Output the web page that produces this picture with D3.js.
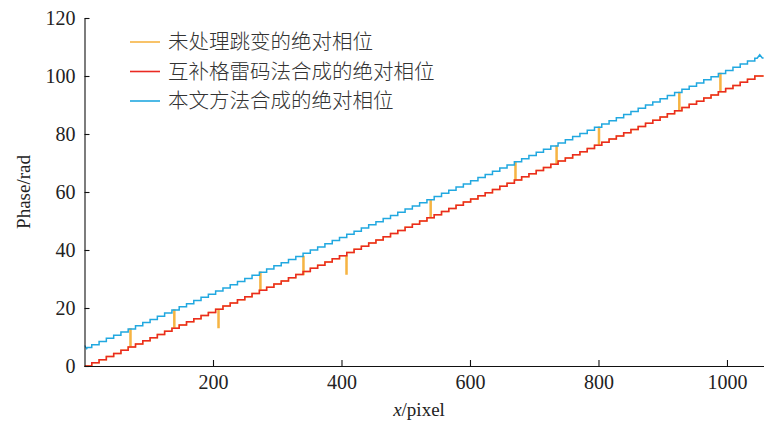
<!DOCTYPE html>
<html><head><meta charset="utf-8">
<script src="https://cdn.jsdelivr.net/npm/d3@7/dist/d3.min.js"></script>
<style>
html,body{margin:0;padding:0;background:#fff;}
svg{display:block;}
</style></head>
<body><svg id="c" width="764" height="424"></svg>
<script>
// ---- data ----
const xTicks = [200, 400, 600, 800, 1000];
const yTicks = [0, 20, 40, 60, 80, 100, 120];
// x positions where each staircase level begins
const stepX = [0, 11.3, 22.7, 34.0, 45.4, 56.7, 68.0, 79.4, 90.7, 102.1, 113.4, 124.7, 136.1, 147.4, 158.8, 170.1, 181.4, 192.8, 204.1, 215.5, 226.8, 238.1, 249.5, 260.8, 272.2, 283.5, 294.8, 306.2, 317.5, 328.9, 340.2, 351.5, 362.9, 374.2, 385.6, 396.9, 408.2, 419.6, 430.9, 442.3, 453.6, 464.9, 476.3, 487.6, 499.0, 510.3, 521.6, 533.0, 544.3, 555.7, 567.0, 578.3, 589.7, 601.0, 612.4, 623.7, 635.0, 646.4, 657.7, 669.1, 680.4, 691.7, 703.1, 714.4, 725.8, 737.1, 748.4, 759.8, 771.1, 782.5, 793.8, 805.1, 816.5, 827.8, 839.2, 850.5, 861.8, 873.2, 884.5, 895.9, 907.2, 918.5, 929.9, 941.2, 952.6, 963.9, 975.2, 986.6, 997.9, 1009.3, 1020.6, 1031.9, 1043.3];
const xEnd = 1057;
// 互补格雷码法合成的绝对相位
const redLevels = [0, 1.09, 2.17, 3.26, 4.35, 5.43, 6.52, 7.61, 8.70, 9.78, 10.87, 11.96, 13.04, 14.13, 15.22, 16.30, 17.39, 18.48, 19.57, 20.65, 21.74, 22.83, 23.91, 25.00, 26.09, 27.17, 28.26, 29.35, 30.43, 31.52, 32.61, 33.70, 34.78, 35.87, 36.96, 38.04, 39.13, 40.22, 41.30, 42.39, 43.48, 44.57, 45.65, 46.74, 47.83, 48.91, 50.00, 51.09, 52.17, 53.26, 54.35, 55.43, 56.52, 57.61, 58.70, 59.78, 60.87, 61.96, 63.04, 64.13, 65.22, 66.30, 67.39, 68.48, 69.57, 70.65, 71.74, 72.83, 73.91, 75.00, 76.09, 77.17, 78.26, 79.35, 80.43, 81.52, 82.61, 83.70, 84.78, 85.87, 86.96, 88.04, 89.13, 90.22, 91.30, 92.39, 93.48, 94.57, 95.65, 96.74, 97.83, 98.91, 100.00];
// 本文方法合成的绝对相位
const blueLevels = [6.40, 7.37, 8.45, 9.54, 10.63, 11.71, 12.80, 13.89, 14.98, 16.06, 17.15, 18.24, 19.32, 20.41, 21.50, 22.58, 23.67, 24.76, 25.85, 26.93, 28.02, 29.11, 30.19, 31.28, 32.37, 33.45, 34.54, 35.63, 36.71, 37.80, 38.89, 39.98, 41.06, 42.15, 43.24, 44.32, 45.41, 46.50, 47.58, 48.67, 49.76, 50.85, 51.93, 53.02, 54.11, 55.19, 56.28, 57.37, 58.45, 59.54, 60.63, 61.71, 62.80, 63.89, 64.98, 66.06, 67.15, 68.24, 69.32, 70.41, 71.50, 72.58, 73.67, 74.76, 75.85, 76.93, 78.02, 79.11, 80.19, 81.28, 82.37, 83.45, 84.54, 85.63, 86.71, 87.80, 88.89, 89.98, 91.06, 92.15, 93.24, 94.32, 95.41, 96.50, 97.58, 98.67, 99.76, 100.85, 101.93, 103.02, 104.11, 105.19, 106.10];
// small deviations of the blue curve at its two ends
const blueHeadX = [0, 3.5];
const blueHeadY = [7.1, 6.0];
const blueTailX = [1047, 1051, 1055];
const blueTailY = [106.1, 107.3, 106.2];
// 未处理跳变的绝对相位: jumps (spikes) away from the red staircase
const spikeX = [70.8, 139.0, 207.8, 273.0, 340.0, 407.0, 538.0, 670.0, 734.0, 800.0, 925.0, 989.0];
const spikeJump = [6.28, 6.28, -6.28, 6.28, 6.28, -6.28, 6.28, 6.28, 6.28, 6.28, 6.28, 6.28];
const spikeW = 1.6;

const legendNames = ["未处理跳变的绝对相位", "互补格雷码法合成的绝对相位", "本文方法合成的绝对相位"];
const colors = ["#f6b443", "#ea2a22", "#21a8e0"];

// ---- chart ----
const svg = d3.select("#c");
const L = 84.5, R = 763.6, T = 18, B = 366;
const x = d3.scaleLinear().domain([0, 1057]).range([L, R]);
const y = d3.scaleLinear().domain([0, 120]).range([B, T]);

function stairs(levels) {
  const pts = [];
  levels.forEach((v, i) => {
    const x1 = i + 1 < stepX.length ? stepX[i + 1] : xEnd;
    pts.push([stepX[i], v], [x1, v]);
  });
  return pts;
}
function levelAt(levels, xv) {
  let i = d3.bisectRight(stepX, xv) - 1;
  return levels[Math.max(0, i)];
}

const redPts = stairs(redLevels);
let bluePts = stairs(blueLevels);
bluePts[0] = [blueHeadX[1] + 1, blueLevels[0]];
bluePts = blueHeadX.map((d, i) => [d, blueHeadY[i]]).concat(bluePts);
bluePts = bluePts.filter(p => p[0] < blueTailX[0]);
blueTailX.forEach((d, i) => bluePts.push([d, blueTailY[i]]));
bluePts.push([xEnd, blueTailY[blueTailY.length - 1]]);

// orange: red staircase with the jumps inserted
const orangePts = [];
{
  const events = redPts.map(p => ({x: p[0], pts: [p]}));
  spikeX.forEach((sx, k) => {
    const r = levelAt(redLevels, sx);
    events.push({x: sx + 0.001, pts: [[sx, r], [sx, r + spikeJump[k]], [sx + spikeW, r + spikeJump[k]], [sx + spikeW, r]]});
  });
  events.sort((a, b) => a.x - b.x);
  events.forEach(e => e.pts.forEach(p => orangePts.push(p)));
}

svg.append("defs").append("clipPath").attr("id", "clip")
  .append("rect").attr("x", L).attr("y", T - 2).attr("width", R - L + 1).attr("height", B - T + 3);

const line = d3.line().x(d => x(d[0])).y(d => y(d[1])).curve(d3.curveLinear);
const g = svg.append("g").attr("clip-path", "url(#clip)");
[[orangePts, colors[0]], [redPts, colors[1]], [bluePts, colors[2]]].forEach(([pts, c]) => {
  g.append("path").attr("d", line(pts)).attr("fill", "none")
    .attr("stroke", c).attr("stroke-width", 1.5).attr("stroke-linejoin", "miter");
});

// axes
const font = "'Liberation Serif','Times New Roman',serif";
const xAxis = d3.axisBottom(x).tickValues(xTicks).tickFormat(d3.format("d")).tickSize(-6).tickSizeOuter(0).tickPadding(9);
const yAxis = d3.axisLeft(y).tickValues(yTicks).tickFormat(d3.format("d")).tickSize(-5).tickSizeOuter(0).tickPadding(9);
const gx = svg.append("g").attr("transform", `translate(0,${B})`).call(xAxis);
const gy = svg.append("g").attr("transform", `translate(${L},0)`).call(yAxis);
gx.select(".domain").attr("d", `M${L},0.5H764`);
[gx, gy].forEach(a => {
  a.selectAll("path,line").attr("stroke", "#111").attr("stroke-width", 1.1);
  a.selectAll("text").attr("font-family", font).attr("font-size", 20).attr("fill", "#222");
});

svg.append("text").attr("x", 419).attr("y", 416).attr("text-anchor", "middle")
  .attr("font-family", font).attr("font-size", 19).attr("fill", "#222")
  .html('<tspan font-style="italic">x</tspan>/pixel');
svg.append("text").attr("transform", "translate(30,192) rotate(-90)").attr("text-anchor", "middle")
  .attr("font-family", font).attr("font-size", 19).attr("fill", "#222").text("Phase/rad");

// legend
const lg = svg.append("g");
legendNames.forEach((n, i) => {
  const yy = 42 + i * 29.5;
  lg.append("line").attr("x1", 130).attr("x2", 160).attr("y1", yy).attr("y2", yy)
    .attr("stroke", colors[i]).attr("stroke-width", 1.6);
  lg.append("text").attr("x", 168).attr("y", yy).attr("dy", "0.36em")
    .attr("font-family", "'Noto Sans CJK SC',sans-serif").attr("font-size", 20.5)
    .attr("font-weight", 300).attr("fill", "#333").text(n);
});
</script></body></html>
